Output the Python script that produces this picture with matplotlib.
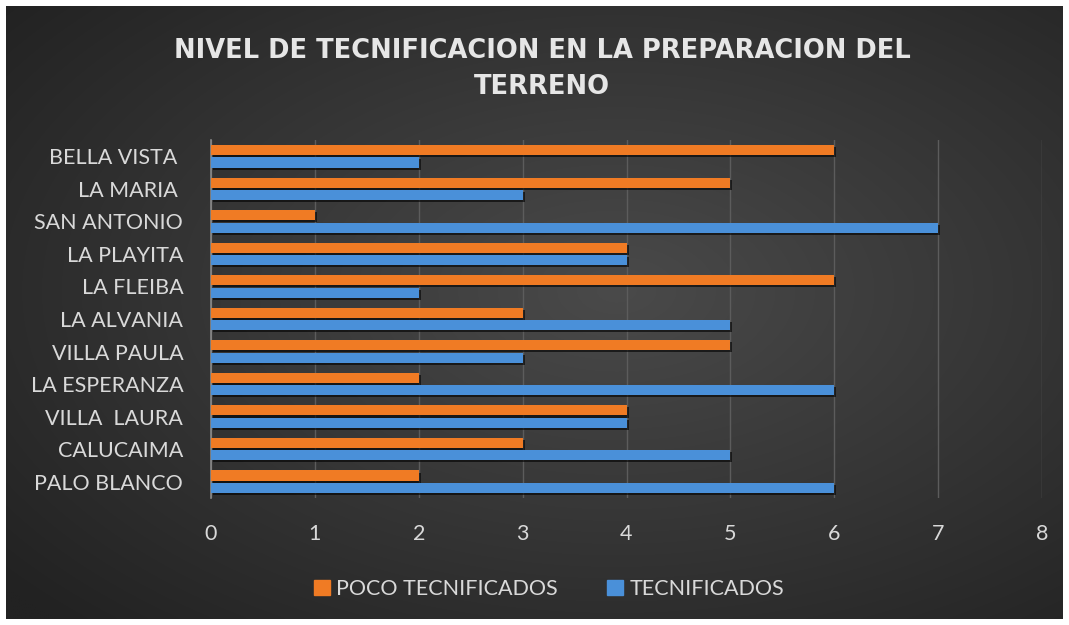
import numpy as np
import matplotlib
matplotlib.use("Agg")
import matplotlib.pyplot as plt
import matplotlib.patheffects as pe
from matplotlib.patches import Patch

categories = ["PALO BLANCO", "CALUCAIMA", "VILLA  LAURA", "LA ESPERANZA", "VILLA PAULA",
              "LA ALVANIA", "LA FLEIBA", "LA PLAYITA", "SAN ANTONIO", "LA MARIA ", "BELLA VISTA "]
poco_tecnificados = [2, 3, 4, 2, 5, 3, 6, 4, 1, 5, 6]
tecnificados = [6, 5, 4, 6, 3, 5, 2, 4, 7, 3, 2]
xticks = [0, 1, 2, 3, 4, 5, 6, 7, 8]
title = "NIVEL DE TECNIFICACION EN LA PREPARACION DEL\nTERRENO"

ORANGE = "#f07b24"
BLUE = "#4a90d9"
TXT = "#d9d9d9"

W, H = 1069, 625
fig = plt.figure(figsize=(W / 100, H / 100), dpi=100, facecolor="white")

# background panel with radial gradient
bg = fig.add_axes([6 / W, 6 / H, (W - 12) / W, (H - 12) / H])
bg.set_axis_off()
yy, xx = np.mgrid[0:300, 0:520]
cx, cy = 300, 160
r = np.sqrt(((xx - cx) / 520) ** 2 + ((yy - cy) / 300) ** 2)
r = np.clip(r / 0.75, 0, 1)
c0 = np.array([0x4a, 0x4a, 0x4a]) / 255
c1 = np.array([0x22, 0x22, 0x22]) / 255
img = c0[None, None, :] * (1 - r[..., None]) + c1[None, None, :] * r[..., None]
bg.imshow(img, aspect="auto", extent=[0, 1, 0, 1], origin="lower", interpolation="bilinear")
bg.set_xlim(0, 1)
bg.set_ylim(0, 1)

ax = fig.add_axes([211 / W, 1 - 498 / H, (1042 - 211) / W, (498 - 140) / H])
ax.patch.set_alpha(0)
y = np.arange(len(categories))
h = 0.31
off = 0.19
shadow = [pe.SimplePatchShadow(offset=(1.5, -1.5), shadow_rgbFace="black", alpha=0.6), pe.Normal()]
b1 = ax.barh(y + off, poco_tecnificados, height=h, color=ORANGE, zorder=3, label="POCO TECNIFICADOS")
b2 = ax.barh(y - off, tecnificados, height=h, color=BLUE, zorder=3, label="TECNIFICADOS")
for b in list(b1) + list(b2):
    b.set_path_effects(shadow)

ax.set_xlim(0, 8)
ax.set_ylim(-0.5, len(categories) - 0.5)
ax.set_xticks(xticks)
ax.set_xticklabels([str(t) for t in xticks])
ax.set_yticks(y)
ax.set_yticklabels(categories)
ax.grid(axis="x", color="#5c5c5c", linewidth=1, zorder=0)
ax.tick_params(axis="both", length=0, colors=TXT, labelsize=15.5)
ax.tick_params(axis="x", pad=19)
ax.tick_params(axis="y", pad=20)
for lab in ax.get_xticklabels() + ax.get_yticklabels():
    lab.set_fontfamily("Lato")
    lab.set_color(TXT)
for s in ["top", "right", "bottom"]:
    ax.spines[s].set_visible(False)
ax.spines["left"].set_color("#8a8a8a")
ax.spines["left"].set_linewidth(1.2)

fig.text(0.507, 1 - 69 / H, title, ha="center", va="center", color="#e6e6e6",
         fontsize=18.5, fontweight="bold", family="DejaVu Sans", linespacing=1.55)

handles = [Patch(color=ORANGE), Patch(color=BLUE)]
leg = fig.legend(handles, ["POCO TECNIFICADOS", "TECNIFICADOS"], loc="center",
                 bbox_to_anchor=(549 / W, 1 - 589 / H), ncol=2, frameon=False,
                 prop={"family": "Lato", "size": 15.5}, handlelength=0.75, handleheight=0.75,
                 handletextpad=0.3, columnspacing=2.3)
for t in leg.get_texts():
    t.set_color(TXT)

fig.savefig("out.png", dpi=100, facecolor="white")
